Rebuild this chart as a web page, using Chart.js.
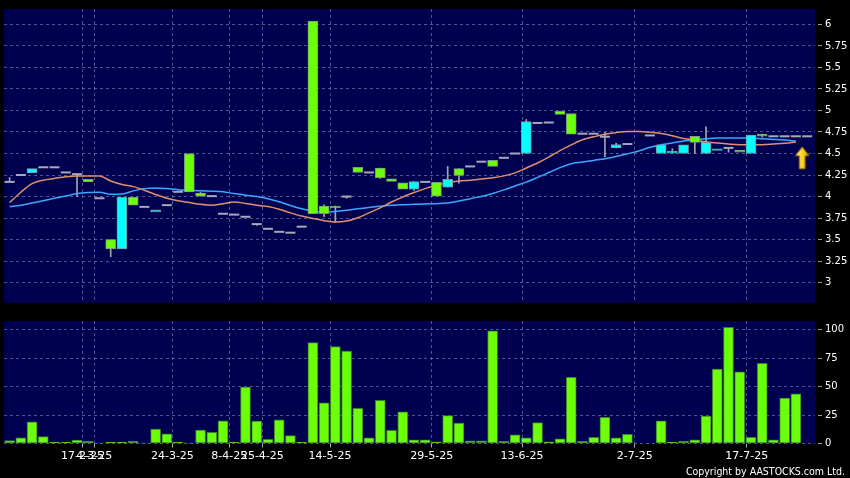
<!DOCTYPE html>
<html>
<head>
<meta charset="utf-8">
<script src="https://cdn.jsdelivr.net/npm/chart.js@4"></script>
<style>
html,body{margin:0;padding:0;background:#000;width:850px;height:478px;overflow:hidden}
#price{position:absolute;left:0;top:0}
#vol{position:absolute;left:0;top:312px}
#copy{position:absolute;right:5px;top:464px;line-height:14px;color:#fff;font-size:10.5px;font-family:"DejaVu Sans Condensed","DejaVu Sans",sans-serif;white-space:nowrap}
</style>
</head>
<body>
<canvas id="price" width="850" height="312"></canvas>
<canvas id="vol" width="850" height="166"></canvas>
<div id="copy">Copyright by AASTOCKS.com Ltd.</div>
<script>

// candles, one slot per trading day (56 = no candle)
let opens=[4.17,4.25,4.275,4.34,4.34,4.28,4.26,4.20,3.98,3.50,
3.39,3.99,3.88,3.82,3.90,4.055,4.50,4.04,4.005,3.80,
3.79,3.765,3.68,3.625,3.59,3.58,3.65,6.04,3.89,3.89,
4.00,4.34,4.28,4.33,4.205,4.16,4.085,4.17,4.165,4.11,
4.325,4.35,4.405,4.42,4.45,4.50,4.50,4.855,4.86,4.99,
4.965,4.73,4.73,4.695,4.565,4.61,null,4.71,4.50,4.505,
4.50,4.70,4.50,4.535,4.565,4.54,4.50,4.725,4.70,4.70,
4.70,4.70]

let closes=[4.17,4.25,4.325,4.34,4.34,4.28,4.26,4.17,3.98,3.39,
3.99,3.90,3.88,3.845,3.90,4.055,4.055,4.005,4.005,3.80,
3.79,3.765,3.68,3.625,3.59,3.58,3.65,3.80,3.80,3.87,
4.00,4.28,4.28,4.22,4.175,4.085,4.175,4.17,4.005,4.20,
4.245,4.35,4.405,4.35,4.45,4.50,4.87,4.855,4.86,4.955,
4.725,4.73,4.73,4.695,4.605,4.61,null,4.71,4.60,4.525,
4.60,4.63,4.63,4.555,4.565,4.515,4.715,4.70,4.70,4.70,
4.70,4.70]

let highs=[4.22,4.25,4.325,4.34,4.34,4.28,4.26,4.20,3.98,3.50,
3.99,3.99,3.88,3.845,3.90,4.055,4.50,4.05,4.005,3.80,
3.79,3.765,3.68,3.625,3.59,3.58,3.65,6.04,3.905,3.89,
4.00,4.34,4.28,4.33,4.205,4.16,4.175,4.17,4.165,4.35,
4.325,4.35,4.405,4.42,4.45,4.50,4.895,4.855,4.86,4.99,
4.965,4.73,4.73,4.745,4.62,4.61,null,4.71,4.60,4.555,
4.60,4.70,4.81,4.555,4.565,4.54,4.715,4.725,4.70,4.70,
4.70,4.70]

let lows=[4.17,4.25,4.275,4.34,4.34,4.28,4.00,4.17,3.98,3.30,
3.39,3.90,3.88,3.82,3.90,4.055,4.055,4.005,4.005,3.80,
3.79,3.765,3.665,3.625,3.59,3.58,3.65,3.80,3.765,3.70,
3.98,4.28,4.28,4.21,4.175,4.085,4.07,4.17,4.005,4.11,
4.155,4.35,4.405,4.35,4.45,4.50,4.50,4.855,4.86,4.955,
4.725,4.73,4.73,4.46,4.565,4.61,null,4.71,4.50,4.505,
4.50,4.50,4.50,4.535,4.515,4.515,4.50,4.69,4.70,4.70,
4.70,4.70]

let volumes=[2.5,5,19,6,1,1,3,2,0.3,1,
1,2,0.3,12.7,8.4,1,0.3,11.8,9.8,20,
1,49.6,19.6,3.7,20.7,6.9,1,88.5,35.7,85,
81,30.8,4.9,37.8,11.5,27.7,3.2,3.2,1.4,24.5,
17.9,2.3,2.3,98.8,2,7.5,4.9,18.4,1.4,4,
58,2,5.5,23,4.9,8,0,0,20,1,
2,3.2,24,65.4,102,63,5.5,70.3,3.2,39.8,
43.5]

// moving averages (orange = short, blue = long)
let maShort=[3.93,4.05,4.15,4.19,4.21,4.23,4.24,4.24,4.24,4.18,
4.14,4.115,4.074,4.024,3.98,3.95,3.93,3.91,3.90,3.917,
3.937,3.92,3.90,3.883,3.852,3.81,3.773,3.746,3.72,3.704,
3.715,3.754,3.81,3.868,3.937,3.994,4.047,4.092,4.13,4.16,
4.18,4.19,4.203,4.218,4.24,4.275,4.332,4.39,4.458,4.534,
4.60,4.66,4.694,4.725,4.743,4.755,4.755,4.748,4.732,4.706,
4.675,4.656,4.637,4.622,4.61,4.603,4.603,4.603,4.61,4.618,
4.633]

let maLong=[3.884,3.898,3.925,3.952,3.98,4.005,4.035,4.047,4.05,4.028,
4.03,4.066,4.092,4.10,4.092,4.08,4.074,4.066,4.062,4.055,
4.035,4.016,4.0,3.975,3.94,3.895,3.857,3.83,3.822,3.826,
3.84,3.857,3.872,3.887,3.898,3.906,3.91,3.914,3.917,3.925,
3.948,3.975,4.0,4.035,4.077,4.123,4.168,4.222,4.279,4.336,
4.382,4.40,4.42,4.44,4.466,4.497,4.53,4.572,4.603,4.622,
4.645,4.66,4.671,4.679,4.679,4.679,4.679,4.671,4.664,4.656,
4.645]

let priceTicks=[3,3.25,3.5,3.75,4,4.25,4.5,4.75,5,5.25,5.5,5.75,6]
let volTicks=[0,25,50,75,100]
let datePos=[6.49,7.54,14.49,19.56,22.5,28.53,37.58,45.62,55.66,65.63]
let dateLabels=["17-2-25","4-3-25","24-3-25","8-4-25","25-4-25","14-5-25","29-5-25","13-6-25","2-7-25","17-7-25"]
let lastMark=[70.56,4.45]

let gridCol="rgba(110,120,170,0.7)"
let navy="#000050"
let green="#6cff0a"
let cyan="#00ffff"

const bgPlugin={
id:"bg",
beforeDraw(c){
let a=c.chartArea
c.ctx.save()
c.ctx.fillStyle=navy
c.ctx.fillRect(a.left,a.top,a.right-a.left,a.bottom-a.top)
c.ctx.restore()
}
}

function makeArrow(){
let c=document.createElement("canvas")
c.width=16
c.height=24
let g=c.getContext("2d")
g.beginPath()
g.moveTo(8,1)
g.lineTo(15,10)
g.lineTo(11,10)
g.lineTo(11,23)
g.lineTo(5,23)
g.lineTo(5,10)
g.lineTo(1,10)
g.closePath()
let gr=g.createLinearGradient(0,0,16,0)
gr.addColorStop(0,"#fff6a8")
gr.addColorStop(0.5,"#ffd420")
gr.addColorStop(1,"#d99a00")
g.fillStyle=gr
g.fill()
g.strokeStyle="#7a5c00"
g.lineWidth=1
g.stroke()
return c
}

// split the candles into the pieces the library draws
let upBodies=[],downBodies=[],dojis=[],wicks=[]

opens.forEach((o,i)=>{
if(o==null) return
let c=closes[i]
if(c>o) upBodies.push({x:i,y:[o,c]})
else if(c<o) downBodies.push({x:i,y:[c,o]})
else dojis.push({x:i,y:c})
if(highs[i]>Math.max(o,c) || lows[i]<Math.min(o,c)) wicks.push({x:i,y:[lows[i],highs[i]]})
})

let tickFont={family:"DejaVu Sans",size:10}

Chart.defaults.font.family="DejaVu Sans"

new Chart(document.getElementById("price"),{
type:"bar",
data:{
datasets:[
{type:"bar",data:wicks,backgroundColor:"#a4a4b0",barThickness:1,grouped:false,order:6},
{type:"line",data:maLong.map((v,i)=>({x:i,y:v})),borderColor:"#3aa8ff",borderWidth:1.5,pointRadius:0,cubicInterpolationMode:"monotone",order:5},
{type:"line",data:maShort.map((v,i)=>({x:i,y:v})),borderColor:"#e0906a",borderWidth:1.5,pointRadius:0,cubicInterpolationMode:"monotone",order:4},
{type:"bar",data:downBodies,backgroundColor:green,borderColor:"#7f9a7a",borderWidth:1,borderSkipped:false,barThickness:10,grouped:false,order:3},
{type:"bar",data:upBodies,backgroundColor:cyan,borderColor:"#7a9a9a",borderWidth:1,borderSkipped:false,barThickness:10,grouped:false,order:3},
{type:"scatter",data:dojis,pointStyle:"line",pointRadius:5,borderWidth:2,borderColor:"#a8a8b8",backgroundColor:"#a8a8b8",order:2},
{type:"scatter",data:[{x:lastMark[0],y:lastMark[1]}],pointStyle:makeArrow(),order:1}
]
},
options:{
responsive:false,
animation:false,
devicePixelRatio:1,
events:[],
layout:{autoPadding:false,padding:{left:4,top:6,right:0,bottom:7}},
plugins:{legend:{display:false},tooltip:{enabled:false}},
scales:{
x:{
type:"linear",min:-0.5,max:71.7,offset:false,
afterBuildTicks:s=>{s.ticks=datePos.map(v=>({value:v}))},
ticks:{display:false,autoSkip:false},
grid:{color:gridCol,drawTicks:false,offset:false},
border:{display:false,dash:[3,3]},
afterFit:s=>{s.height=0}
},
y:{
position:"right",min:2.763,max:6.179,
afterBuildTicks:s=>{s.ticks=priceTicks.map(v=>({value:v}))},
ticks:{color:"#ffffff",font:tickFont,padding:3,callback:v=>String(v)},
grid:{color:gridCol,tickColor:"#9a9a9a",tickLength:7,tickBorderDash:[0,3,4]},
border:{display:false,dash:[3,3]},
afterFit:s=>{s.width=35}
}
}
},
plugins:[bgPlugin]
})

new Chart(document.getElementById("vol"),{
type:"bar",
data:{
datasets:[
{data:volumes.map((v,i)=>({x:i,y:v})),backgroundColor:green,borderColor:"#3f7f2a",borderWidth:1,borderSkipped:false,barThickness:10,grouped:false}
]
},
options:{
responsive:false,
animation:false,
devicePixelRatio:1,
events:[],
layout:{autoPadding:false,padding:{left:4,top:7,right:0,bottom:0}},
plugins:{legend:{display:false},tooltip:{enabled:false}},
scales:{
x:{
type:"linear",min:-0.5,max:71.7,offset:false,
afterBuildTicks:s=>{s.ticks=datePos.map(v=>({value:v}))},
ticks:{color:"#ffffff",font:{family:"DejaVu Sans",size:11},padding:2,autoSkip:false,maxRotation:0,minRotation:0,
callback:(v,i)=>dateLabels[i]},
grid:{color:gridCol,offset:false,tickColor:"#b0b0b0",tickLength:4,tickBorderDash:[]},
border:{display:false,dash:[3,3]},
afterFit:s=>{s.height=34.5}
},
y:{
position:"right",min:0,max:107.5,
afterBuildTicks:s=>{s.ticks=volTicks.map(v=>({value:v}))},
ticks:{color:"#ffffff",font:tickFont,padding:3,callback:v=>String(v)},
grid:{color:gridCol,tickColor:"#9a9a9a",tickLength:7,tickBorderDash:[0,3,4]},
border:{display:false,dash:[3,3]},
afterFit:s=>{s.width=35}
}
}
},
plugins:[bgPlugin]
})

</script>
</body>
</html>
